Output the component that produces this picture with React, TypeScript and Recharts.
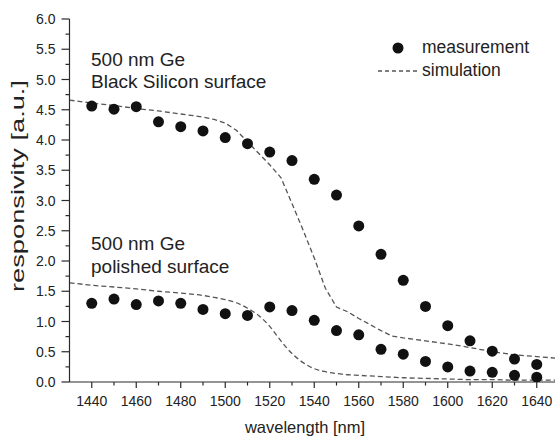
import { ComposedChart, Line, Scatter, XAxis, YAxis, Legend } from "recharts";

// measured responsivity, 10 nm steps
const WL_MEAS = [1440, 1450, 1460, 1470, 1480, 1490, 1500, 1510, 1520, 1530, 1540, 1550, 1560, 1570, 1580, 1590, 1600, 1610, 1620, 1630, 1640];
const MEAS_BLACK = [4.56, 4.51, 4.55, 4.3, 4.22, 4.15, 4.04, 3.94, 3.8, 3.66, 3.35, 3.09, 2.58, 2.11, 1.68, 1.25, 0.93, 0.68, 0.51, 0.38, 0.29];
const MEAS_POLISHED = [1.3, 1.37, 1.28, 1.34, 1.3, 1.2, 1.13, 1.1, 1.24, 1.18, 1.02, 0.85, 0.78, 0.54, 0.46, 0.34, 0.25, 0.18, 0.16, 0.11, 0.08];

// simulated curves
const WL_SIM = [1430, 1440, 1450, 1460, 1470, 1480, 1490, 1495, 1500, 1505, 1510, 1515, 1520, 1525, 1530, 1535, 1540, 1545, 1550, 1555, 1560, 1570, 1575, 1580, 1590, 1600, 1610, 1620, 1630, 1640, 1650];
const SIM_BLACK = [4.66, 4.61, 4.57, 4.52, 4.48, 4.43, 4.38, 4.34, 4.28, 4.16, 3.97, 3.78, 3.59, 3.38, 2.95, 2.51, 2.05, 1.55, 1.24, 1.16, 1.05, 0.85, 0.76, 0.73, 0.68, 0.63, 0.57, 0.5, 0.45, 0.42, 0.39];
const SIM_POLISHED = [1.64, 1.6, 1.57, 1.54, 1.5, 1.47, 1.43, 1.4, 1.36, 1.31, 1.22, 1.1, 0.92, 0.68, 0.47, 0.32, 0.22, 0.17, 0.14, 0.12, 0.11, 0.09, 0.08, 0.07, 0.06, 0.05, 0.04, 0.04, 0.03, 0.03, 0.03];

const X_TICKS = [1440, 1450, 1460, 1470, 1480, 1490, 1500, 1510, 1520, 1530, 1540, 1550, 1560, 1570, 1580, 1590, 1600, 1610, 1620, 1630, 1640];
const Y_TICKS = [0, 0.25, 0.5, 0.75, 1, 1.25, 1.5, 1.75, 2, 2.25, 2.5, 2.75, 3, 3.25, 3.5, 3.75, 4, 4.25, 4.5, 4.75, 5, 5.25, 5.5, 5.75, 6];

const FONT = "'Liberation Sans', Arial, sans-serif";
const AXIS = "#2a2a2a";
const TEXT = "#222";
const DASH = "#555";

const zip = (xs: number[], ys: number[]) => xs.map((x, i) => ({ x, y: ys[i] }));
const measBlack = zip(WL_MEAS, MEAS_BLACK);
const measPolished = zip(WL_MEAS, MEAS_POLISHED);
const simBlack = zip(WL_SIM, SIM_BLACK);
const simPolished = zip(WL_SIM, SIM_POLISHED);

const isMajorX = (v: number) => v % 20 === 0;
const isMajorY = (v: number) => Math.abs(v * 2 - Math.round(v * 2)) < 1e-6;

const BottomTick = (props: any) => {
  const { x, y, payload } = props;
  const major = isMajorX(payload.value);
  return (
    <g>
      <line x1={x} x2={x} y1={y} y2={y + (major ? 6 : 3.5)} stroke={AXIS} strokeWidth={1.2} />
      {major && (
        <text x={x} y={y + 24} textAnchor="middle" fontSize={14} fill={TEXT} fontFamily={FONT}>
          {payload.value}
        </text>
      )}
    </g>
  );
};

const TopTick = (props: any) => {
  const { x, y, payload } = props;
  const major = isMajorX(payload.value);
  return <line x1={x} x2={x} y1={y} y2={y + (major ? 6 : 4)} stroke={AXIS} strokeWidth={1.2} />;
};

const LeftTick = (props: any) => {
  const { x, y, payload } = props;
  const major = isMajorY(payload.value);
  return (
    <g>
      <line x1={x - (major ? 8 : 4)} x2={x} y1={y} y2={y} stroke={AXIS} strokeWidth={1.2} />
      {major && (
        <text x={x - 14} y={y + 5} textAnchor="end" fontSize={14} fill={TEXT} fontFamily={FONT}>
          {payload.value.toFixed(1)}
        </text>
      )}
    </g>
  );
};

const RightTick = (props: any) => {
  const { x, y, payload } = props;
  const major = isMajorY(payload.value);
  return <line x1={x - (major ? 6 : 3)} x2={x} y1={y} y2={y} stroke={AXIS} strokeWidth={1.2} />;
};

const Dot = (props: any) => <circle cx={props.cx} cy={props.cy} r={5.5} fill="#111" />;

const LegendBox = () => (
  <div style={{ fontFamily: FONT, fontSize: 17.5, color: TEXT, lineHeight: "23px" }}>
    <div style={{ display: "flex", alignItems: "center" }}>
      <svg width={47} height={23}>
        <circle cx={23} cy={12} r={5.5} fill="#111" />
      </svg>
      <span>measurement</span>
    </div>
    <div style={{ display: "flex", alignItems: "center" }}>
      <svg width={47} height={23}>
        <line x1={3} x2={43} y1={12} y2={12} stroke={DASH} strokeWidth={1.3} strokeDasharray="4 3" />
      </svg>
      <span>simulation</span>
    </div>
  </div>
);

const YLabel = () => (
  <text
    x={17}
    y={186}
    transform="rotate(-90, 17, 186)"
    textAnchor="middle"
    dominantBaseline="central"
    fontSize={19}
    fill={TEXT}
    fontFamily={FONT}
    textLength={212}
    lengthAdjust="spacingAndGlyphs"
  >
    responsivity [a.u.]
  </text>
);

const Annotations = () => (
  <svg width={555} height={439} style={{ position: "absolute", left: 0, top: 0, pointerEvents: "none" }}>
    <g fontFamily={FONT} fontSize={19} fill={TEXT}>
      <text x={91} y={66}>500 nm Ge</text>
      <text x={91} y={88}>Black Silicon surface</text>
      <text x={91} y={250}>500 nm Ge</text>
      <text x={91} y={273}>polished surface</text>
      <text x={305} y={433} textAnchor="middle" fontSize={16.5}>wavelength [nm]</text>
    </g>
  </svg>
);

export default function App() {
  return (
    <div style={{ position: "fixed", left: 0, top: 0, width: 555, height: 439, overflow: "hidden", background: "#fff" }}>
      <ComposedChart width={570} height={439} margin={{ top: 19, right: 11, bottom: 0, left: 0 }}>
        <XAxis
          xAxisId="b"
          type="number"
          dataKey="x"
          domain={[1430, 1650]}
          ticks={X_TICKS}
          interval={0}
          tick={BottomTick}
          tickLine={false}
          tickSize={0}
          tickMargin={0}
          axisLine={{ stroke: AXIS, strokeWidth: 1.2 }}
          height={57}
          allowDataOverflow
        />
        <XAxis
          xAxisId="t"
          orientation="top"
          type="number"
          dataKey="x"
          domain={[1430, 1650]}
          ticks={X_TICKS}
          interval={0}
          tick={TopTick}
          tickLine={false}
          tickSize={0}
          tickMargin={0}
          axisLine={{ stroke: AXIS, strokeWidth: 1.2 }}
          height={0}
          allowDataOverflow
        />
        <YAxis
          yAxisId="l"
          type="number"
          dataKey="y"
          domain={[0, 6]}
          ticks={Y_TICKS}
          interval={0}
          tick={LeftTick}
          tickLine={false}
          tickSize={0}
          tickMargin={0}
          axisLine={{ stroke: AXIS, strokeWidth: 1.2 }}
          width={69.5}
          allowDataOverflow
          label={YLabel}
        />
        <YAxis
          yAxisId="r"
          orientation="right"
          type="number"
          dataKey="y"
          domain={[0, 6]}
          ticks={Y_TICKS}
          interval={0}
          tick={RightTick}
          tickLine={false}
          tickSize={0}
          tickMargin={0}
          axisLine={{ stroke: AXIS, strokeWidth: 1.2 }}
          width={0}
          allowDataOverflow
        />
        <Line
          xAxisId="b"
          yAxisId="l"
          data={simBlack}
          dataKey="y"
          name="simulation"
          type="linear"
          stroke={DASH}
          strokeWidth={1.3}
          strokeDasharray="5 3"
          dot={false}
          activeDot={false}
          isAnimationActive={false}
        />
        <Line
          xAxisId="b"
          yAxisId="l"
          data={simPolished}
          dataKey="y"
          name="simulation polished"
          type="monotone"
          stroke={DASH}
          strokeWidth={1.3}
          strokeDasharray="5 3"
          dot={false}
          activeDot={false}
          legendType="none"
          isAnimationActive={false}
        />
        <Scatter xAxisId="b" yAxisId="l" data={measBlack} name="measurement" shape={Dot} isAnimationActive={false} />
        <Scatter xAxisId="b" yAxisId="l" data={measPolished} name="measurement polished" shape={Dot} legendType="none" isAnimationActive={false} />
        <Legend
          layout="vertical"
          align="center"
          verticalAlign="middle"
          content={LegendBox}
          wrapperStyle={{ left: 375, top: 36, width: 170 }}
        />
      </ComposedChart>
      <Annotations />
    </div>
  );
}
